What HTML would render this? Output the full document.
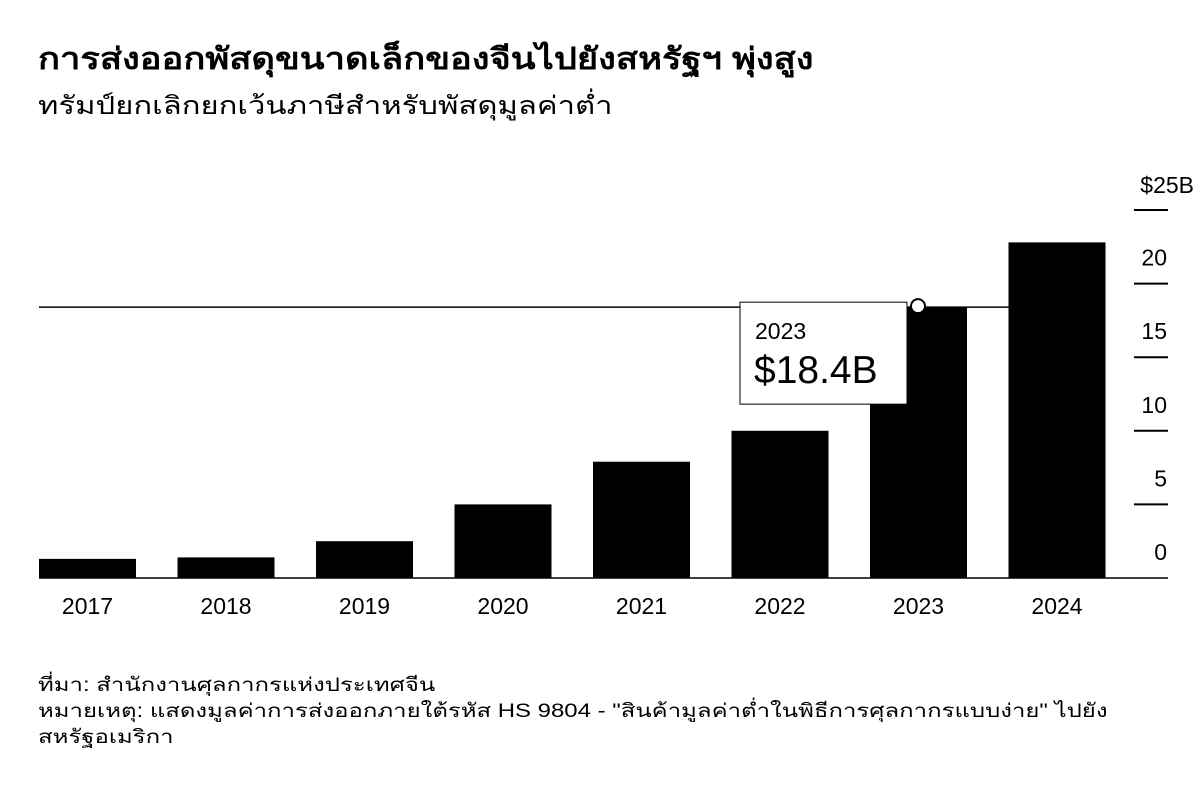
<!DOCTYPE html>
<html><head><meta charset="utf-8"><style>
body{margin:0;background:#fff;width:1200px;height:787px;overflow:hidden;font-family:"Liberation Sans","Noto Sans CJK SC",sans-serif;color:#000}
.t{position:absolute;white-space:nowrap;transform-origin:0 0}
</style></head><body>
<div class="t" style="left:38px;top:36px;font-size:30px;font-weight:bold;transform:scaleX(1.21)">การส่งออกพัสดุขนาดเล็กของจีนไปยังสหรัฐฯ พุ่งสูง</div>
<div class="t" style="left:38px;top:86px;font-size:25px;transform:scaleX(1.24)">ทรัมป์ยกเลิกยกเว้นภาษีสำหรับพัสดุมูลค่าต่ำ</div>
<svg id="c" width="1200" height="787" style="position:absolute;left:0;top:0"></svg>
<div class="t" style="left:38px;top:673px;font-size:19px;line-height:26px;transform:scaleX(1.26)">ที่มา: สำนักงานศุลกากรแห่งประเทศจีน<br>หมายเหตุ: แสดงมูลค่าการส่งออกภายใต้รหัส HS 9804 - "สินค้ามูลค่าต่ำในพิธีการศุลกากรแบบง่าย" ไปยัง<br>สหรัฐอเมริกา</div>
<script>
const categories=["2017","2018","2019","2020","2021","2022","2023","2024"];
const values=[1.3,1.4,2.5,5.0,7.9,10.0,18.4,22.8];
const ticks=[0,5,10,15,20];
const ns="http://www.w3.org/2000/svg";
const svg=document.getElementById('c');
const y=v=>578-v*14.72;
const x=i=>39+i*138.5;
const bw=97;
function el(t,a){const e=document.createElementNS(ns,t);for(const k in a)e.setAttribute(k,a[k]);svg.appendChild(e);return e;}
values.forEach((v,i)=>{
 const r=el('rect',{x:x(i),y:y(v),width:bw,height:578-y(v),fill:'#000'});
 
 
 const t=el('text',{x:x(i)+bw/2,y:614,'text-anchor':'middle','font-size':23});
 t.textContent=categories[i];
 
 
});
const bl=el('line',{x1:39,x2:1168,y1:578,y2:578,stroke:'#000','stroke-width':1.5});


ticks.forEach(v=>{
 const t=el('text',{x:1167,y:y(v)-18,'text-anchor':'end','font-size':23});
 t.textContent=v;
 
 
 if(v>0){const l=el('line',{x1:1134,x2:1168,y1:y(v),y2:y(v),stroke:'#000','stroke-width':2});
 
 }
});
const l25=el('line',{x1:1134,x2:1168,y1:y(25),y2:y(25),stroke:'#000','stroke-width':2});


const tt=el('text',{x:1194,y:y(25)-17,'text-anchor':'end','font-size':23});
tt.textContent='$25B';


const hi=6,hy=y(values[hi]);
const hl=el('line',{x1:39,x2:x(7),y1:hy,y2:hy,stroke:'#000','stroke-width':1.5});


const box=el('rect',{x:740,y:hy-5,width:167,height:102,fill:'#fff',stroke:'#000','stroke-width':1});


const ty=el('text',{x:755,y:hy+32,'font-size':23});
ty.textContent=categories[hi];


const tv=el('text',{x:754,y:hy+76,'font-size':39});
tv.textContent='$'+values[hi].toFixed(1)+'B';


const dot=el('circle',{cx:x(hi)+48,cy:hy-1,r:7,fill:'#fff',stroke:'#000','stroke-width':2});


</script>
</body></html>
